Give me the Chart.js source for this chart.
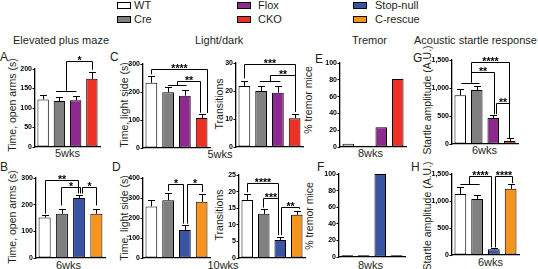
<!DOCTYPE html>
<html>
<head>
<meta charset="utf-8">
<script src="https://cdn.jsdelivr.net/npm/chart.js@4"></script>
<style>
  body { margin: 0; width: 538px; height: 269px; position: relative; background: #fff; overflow: hidden;
         font-family: "Liberation Sans", Arial, sans-serif; color: #231f20; }
  .t { position: absolute; white-space: nowrap; font-size: 11px; line-height: 1; transform: translate(0, -50%); }
  .c { position: absolute; white-space: nowrap; font-size: 11px; line-height: 1; transform: translate(-50%, -50%); }
  .yt { position: absolute; white-space: nowrap; font-size: 10.5px; line-height: 1; transform: translate(-50%, -50%) rotate(-90deg); }
  .sw { position: absolute; width: 12px; height: 5px; border: 1px solid #000; }
  canvas { position: absolute; }
</style>
</head>
<body>
<!-- legend -->
<div class="sw" style="left:117px;top:2px;background:#ffffff"></div><div class="t" style="left:134px;top:5px">WT</div>
<div class="sw" style="left:117px;top:16px;background:#808080"></div><div class="t" style="left:134px;top:19px">Cre</div>
<div class="sw" style="left:237px;top:2px;background:#8e2a8e"></div><div class="t" style="left:258px;top:5px">Flox</div>
<div class="sw" style="left:237px;top:16px;background:#ee3124"></div><div class="t" style="left:258px;top:19px">CKO</div>
<div class="sw" style="left:353px;top:2px;background:#3a54a4"></div><div class="t" style="left:375px;top:5px">Stop-null</div>
<div class="sw" style="left:353px;top:16px;background:#f7941d"></div><div class="t" style="left:375px;top:18.5px">C-rescue</div>

<!-- section titles -->
<div class="t" style="left:13px;top:40px">Elevated plus maze</div>
<div class="t" style="left:195px;top:40px">Light/dark</div>
<div class="t" style="left:352px;top:40px">Tremor</div>
<div class="t" style="left:414px;top:40px">Acoustic startle response</div>

<!-- panel letters -->
<div class="t" style="left:0px;top:56.5px;font-size:12px">A</div>
<div class="t" style="left:0px;top:167px;font-size:12px">B</div>
<div class="t" style="left:110px;top:56.5px;font-size:12px">C</div>
<div class="t" style="left:112px;top:167px;font-size:12px">D</div>
<div class="t" style="left:315px;top:59px;font-size:12px">E</div>
<div class="t" style="left:317px;top:166.5px;font-size:12px">F</div>
<div class="t" style="left:413px;top:57.5px;font-size:12px">G</div>
<div class="t" style="left:411px;top:166.5px;font-size:12px">H</div>

<!-- y axis titles -->
<div class="yt" style="left:12px;top:105px">Time, open arms (s)</div>
<div class="yt" style="left:12px;top:217px">Time, open arms (s)</div>
<div class="yt" style="left:124px;top:105px">Time, light side (s)</div>
<div class="yt" style="left:219px;top:104px">Transitions</div>
<div class="yt" style="left:124px;top:218px">Time, light side (s)</div>
<div class="yt" style="left:219px;top:215px">Transitions</div>
<div class="yt" style="left:308px;top:100px">% tremor mice</div>
<div class="yt" style="left:309px;top:216px">% tremor mice</div>
<div class="yt" style="left:427px;top:100px">Startle amplitude (A.U.)</div>
<div class="yt" style="left:427px;top:216px">Startle amplitude (A.U.)</div>

<!-- age labels -->
<div class="c" style="left:67.5px;top:153px">5wks</div>
<div class="c" style="left:68.5px;top:265px">6wks</div>
<div class="c" style="left:220px;top:153.5px">5wks</div>
<div class="c" style="left:223px;top:264.5px">10wks</div>
<div class="c" style="left:370.5px;top:153px">8wks</div>
<div class="c" style="left:370.5px;top:265px">8wks</div>
<div class="c" style="left:484.5px;top:150px">6wks</div>
<div class="c" style="left:490.5px;top:262px">6wks</div>

<script>
// groups
const groupsCKO = ["WT", "Cre", "Flox", "CKO"];
const groupsRescue = ["WT", "Cre", "Stop-null", "C-rescue"];
const colorsCKO = ["#ffffff", "#808080", "#8e2a8e", "#ee3124"];
const colorsRescue = ["#ffffff", "#808080", "#3a54a4", "#f7941d"];

// means and SEM
const epmA = [122, 118, 120, 175];
const epmAErr = [11, 11, 10, 18];
const epmB = [152, 166, 225, 166];
const epmBErr = [10, 19, 13, 19];
const lightC = [233, 199, 187, 107];
const lightCErr = [24, 18, 20, 14];
const transC = [21.8, 20.0, 19.4, 10.3];
const transCErr = [1.7, 1.8, 2.3, 1.5];
const lightD = [258, 289, 140, 281];
const lightDErr = [30, 38, 27, 41];
const transD = [17.5, 13.3, 5.4, 13.0];
const transDErr = [1.7, 1.5, 0.9, 1.3];
const tremorE = [4, 1.5, 23.5, 81];
const tremorF = [2, 2, 100, 2];
const startleG = [870, 964, 464, 54];
const startleGErr = [107, 72, 54, 46];
const startleH = [1128, 1035, 106, 1225];
const startleHErr = [130, 75, 19, 85];

// tick labels
const ticksA = [0, 50, 100, 150, 200];
const ticksB = [0, 100, 200, 300];
const ticksC1 = [0, 100, 200, 300];
const ticksC2 = [0, 10, 20, 30];
const ticksD1 = [0, 100, 200, 300, 400];
const ticksD2 = [0, 5, 10, 15, 20, 25];
const ticksTremor = [0, 20, 40, 60, 80, 100];
const ticksStartle = [0, 500, 1000, 1500];

// significance: [label, from, to, level, leg1 end, leg2 end] and joins [from, to, level]
const bracketsA = [["*", 1.42, 3.0, 220, 144, 198]];
const joinsA = [[0.8, 2.05, 144]];
const bracketsB = [["**", 0, 1.96, 294, 166, 242], ["*", 0.97, 2.05, 268, 197, 242], ["*", 2.15, 3.0, 268, 242, 197]];
const bracketsC1 = [["****", 0, 3.35, 282, 263, 125], ["**", 1.55, 2.93, 239, 225, 126]];
const joinsC1 = [[1.0, 2.1, 225]];
const bracketsC2 = [["***", 0, 3.05, 29.7, 24.5, 12.5], ["**", 1.55, 3.05, 25.7, 23.4, 12.5]];
const joinsC2 = [[0.92, 2.15, 23.4]];
const bracketsD1 = [["*", 1, 1.9, 370, 336, 172], ["*", 2.1, 3, 370, 172, 330]];
const bracketsD2 = [["****", 0, 1.85, 22.5, 19.8, 6.9], ["***", 0.95, 1.85, 18, 15.2, 6.9], ["**", 2.05, 3.15, 15.5, 6.9, 14.8]];
const bracketsG = [["****", 0.68, 2.95, 1460, 1097, 110], ["**", 0.68, 2.02, 1292, 1097, 530], ["**", 2.18, 2.95, 727, 530, 110]];
const joinsG = [[0.06, 1.17, 1097]];
const bracketsH = [["****", 0.5, 1.8, 1468, 1314, 140], ["****", 2.07, 3.06, 1468, 140, 1330]];
const joinsH = [[0, 1.15, 1314]];

// panel layout: axis left, axis right, top tick, zero line (page px)
const panels = [
  { id: "pA", labels: groupsCKO, colors: colorsCKO, vals: epmA, err: epmAErr, ticks: ticksA, box: [35, 100, 69, 147], br: bracketsA, joins: joinsA },
  { id: "pB", labels: groupsRescue, colors: colorsRescue, vals: epmB, err: epmBErr, ticks: ticksB, box: [36, 105, 178, 258], br: bracketsB },
  { id: "pC1", labels: groupsCKO, colors: colorsCKO, vals: lightC, err: lightCErr, ticks: ticksC1, box: [143, 210, 64, 148], br: bracketsC1, joins: joinsC1 },
  { id: "pC2", labels: groupsCKO, colors: colorsCKO, vals: transC, err: transCErr, ticks: ticksC2, box: [236, 303, 63, 147], br: bracketsC2, joins: joinsC2 },
  { id: "pD1", labels: groupsRescue, colors: colorsRescue, vals: lightD, err: lightDErr, ticks: ticksD1, box: [143, 210, 178, 258], br: bracketsD1 },
  { id: "pD2", labels: groupsRescue, colors: colorsRescue, vals: transD, err: transDErr, ticks: ticksD2, box: [239, 305, 175, 258], br: bracketsD2 },
  { id: "pE", labels: groupsCKO, colors: colorsCKO, vals: tremorE, ticks: ticksTremor, box: [340, 406, 63, 147] },
  { id: "pF", labels: groupsRescue, colors: colorsRescue, vals: tremorF, ticks: ticksTremor, box: [339, 405, 174, 257] },
  { id: "pG", labels: groupsCKO, colors: colorsCKO, vals: startleG, err: startleGErr, ticks: ticksStartle, box: [452, 518, 60, 144], br: bracketsG, joins: joinsG },
  { id: "pH", labels: groupsRescue, colors: colorsRescue, vals: startleH, err: startleHErr, ticks: ticksStartle, box: [452, 519, 174, 255], br: bracketsH, joins: joinsH }
];

const marksById = {};

// error bars, joins and brackets drawn through the scales
const marksPlugin = {
  id: "marks",
  afterDatasetsDraw(chart) {
    const p = marksById[chart.canvas.id];
    const { ctx } = chart;
    const x = chart.scales.x, y = chart.scales.y;
    ctx.save();
    ctx.strokeStyle = "#000";
    ctx.fillStyle = "#000";
    ctx.lineWidth = 1;
    (p.err || []).forEach((e, i) => {
      const px = Math.round(x.getPixelForValue(i)) + 0.5;
      const y0 = y.getPixelForValue(p.vals[i]);
      const y1 = Math.round(y.getPixelForValue(p.vals[i] + e)) + 0.5;
      ctx.beginPath();
      ctx.moveTo(px, y0); ctx.lineTo(px, y1);
      ctx.moveTo(px - 3.5, y1); ctx.lineTo(px + 3.5, y1);
      ctx.stroke();
    });
    (p.joins || []).forEach(([a, b, v]) => {
      const py = Math.round(y.getPixelForValue(v)) + 0.5;
      ctx.beginPath();
      ctx.moveTo(x.getPixelForValue(a), py); ctx.lineTo(x.getPixelForValue(b), py);
      ctx.stroke();
    });
    ctx.font = "bold 10.5px 'Liberation Sans', Arial, sans-serif";
    ctx.textAlign = "center";
    ctx.textBaseline = "alphabetic";
    (p.br || []).forEach(([lab, a, b, v, va, vb]) => {
      const xa = Math.round(x.getPixelForValue(a)) + 0.5;
      const xb = Math.round(x.getPixelForValue(b)) + 0.5;
      const py = Math.round(y.getPixelForValue(v)) + 0.5;
      ctx.beginPath();
      ctx.moveTo(xa, y.getPixelForValue(va));
      ctx.lineTo(xa, py); ctx.lineTo(xb, py);
      ctx.lineTo(xb, y.getPixelForValue(vb));
      ctx.stroke();
      ctx.fillText(lab, (xa + xb) / 2, py + 2.5);
    });
    ctx.restore();
  }
};

const PAD_TOP = 26, PAD_BOTTOM = 6, AXIS_W = 26, PAD_RIGHT = 6;

panels.forEach((p) => {
  const [left, right, top, bottom] = p.box;
  const cl = left - AXIS_W, ct = top - PAD_TOP;
  const cv = document.createElement("canvas");
  cv.id = p.id;
  cv.width = right + PAD_RIGHT - cl;
  cv.height = bottom + PAD_BOTTOM - ct;
  cv.style.left = cl + "px";
  cv.style.top = ct + "px";
  document.body.appendChild(cv);
  marksById[p.id] = p;

  new Chart(cv.getContext("2d"), {
    type: "bar",
    data: {
      labels: p.labels,
      datasets: [{
        data: p.vals,
        backgroundColor: p.colors,
        borderColor: "#000",
        borderWidth: 1,
        borderSkipped: false,
        barPercentage: 0.7,
        categoryPercentage: 1
      }]
    },
    options: {
      responsive: false,
      animation: false,
      events: [],
      layout: { padding: { top: PAD_TOP, bottom: PAD_BOTTOM, left: 0, right: PAD_RIGHT } },
      plugins: { legend: { display: false }, tooltip: { enabled: false } },
      scales: {
        x: {
          offset: true,
          grid: { display: false },
          border: { color: "#000", width: 1.3 },
          ticks: { display: false },
          afterFit: (s) => { s.height = 0; }
        },
        y: {
          min: p.ticks[0],
          max: p.ticks[p.ticks.length - 1],
          afterBuildTicks: (s) => { s.ticks = p.ticks.map((v) => ({ value: v })); },
          grid: { drawOnChartArea: false, tickLength: 2.5, color: "#000", lineWidth: 1 },
          border: { color: "#000", width: 1.3 },
          ticks: {
            padding: 0.5,
            color: "#000",
            font: { family: "'Liberation Sans', Arial, sans-serif", size: 7, weight: "bold" }
          },
          afterFit: (s) => { s.width = AXIS_W; }
        }
      }
    },
    plugins: [marksPlugin]
  });
});
</script>
</body>
</html>
